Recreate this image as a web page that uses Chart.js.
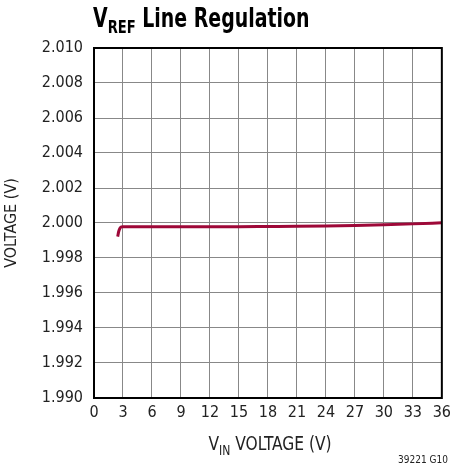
<!DOCTYPE html>
<html>
<head>
<meta charset="utf-8">
<script src="https://cdn.jsdelivr.net/npm/chart.js@4"></script>
<style>
  html, body { margin: 0; padding: 0; background: #fff; }
  #wrap { width: 456px; height: 470px; position: relative; }
</style>
</head>
<body>
<div id="wrap"><canvas id="myChart" width="456" height="470"></canvas></div>
<script>
// Input voltage (V) and reference output (V)
var vin = [2.45, 2.55, 2.7, 2.85, 3.0, 3.5, 6, 9, 12, 15, 18, 21, 24, 27, 30, 33, 36];
var vref = [1.99922, 1.99950, 1.99972, 1.99978, 1.99979, 1.99979, 1.99979, 1.99979, 1.99979, 1.99979, 1.99980, 1.99981, 1.99983, 1.99986, 1.99990, 1.99995, 2.00001];
// Axis ranges
var xTicks = [0, 3, 6, 9, 12, 15, 18, 21, 24, 27, 30, 33, 36];
var yMin = 1.990, yMax = 2.010, yStep = 0.002;

var FONT = '"Liberation Sans Narrow", "DejaVu Sans Condensed", "Liberation Sans", sans-serif';

var points = vin.map(function (v, i) { return { x: v, y: vref[i] }; });

// write text pieces [text, size, weight, dy] squeezed horizontally
function squeezed(c, parts, x, y, sx, align) {
    var total = 0;
    parts.forEach(function (p) {
        c.font = p[2] + ' ' + p[1] + 'px ' + FONT;
        p.w = c.measureText(p[0]).width;
        total += p.w;
    });
    var start = align === 'center' ? x - total * sx / 2 : x;
    c.save();
    c.translate(start, y);
    c.scale(sx, 1);
    var cx = 0;
    parts.forEach(function (p) {
        c.font = p[2] + ' ' + p[1] + 'px ' + FONT;
        c.fillText(p[0], cx, p[3]);
        cx += p.w;
    });
    c.restore();
}

// draws the title and x-axis title with subscripts, plus the figure code
var labelsPlugin = {
    id: 'labels',
    afterDraw: function (chart) {
        var c = chart.ctx;
        c.save();
        c.fillStyle = '#000';
        c.textBaseline = 'alphabetic';
        squeezed(c, [['V', 26, 'bold', 0], ['REF', 18, 'bold', 6], [' Line Regulation', 26, 'bold', 0]], 93, 27, 0.81, 'left');

        c.fillStyle = '#222';
        squeezed(c, [['V', 20, 'normal', 0], ['IN', 14, 'normal', 5], [' VOLTAGE (V)', 20, 'normal', 0]], 270, 450, 0.86, 'center');

        c.font = '10px ' + FONT;
        c.textAlign = 'right';
        c.fillText('39221 G10', 448, 463);
        c.restore();
    }
};

var ctx = document.getElementById('myChart');
var myChart = new Chart(ctx, {
    type: 'line',
    data: {
        datasets: [{
            data: points,
            borderColor: '#9e0838',
            borderWidth: 3,
            pointRadius: 0,
            tension: 0.3,
            cubicInterpolationMode: 'monotone',
            fill: false
        }]
    },
    options: {
        responsive: false,
        animation: false,
        layout: { padding: { left: 0, right: 11, top: 48, bottom: 0 } },
        plugins: { legend: { display: false }, tooltip: { enabled: false }, title: { display: false } },
        scales: {
            x: {
                type: 'linear',
                min: 0, max: 36,
                afterBuildTicks: function (scale) {
                    scale.ticks = xTicks.map(function (v) { return { value: v }; });
                },
                afterFit: function (scale) { scale.height = 72; },
                grid: { color: '#888', lineWidth: 1, drawTicks: false },
                border: { color: '#000', width: 2 },
                ticks: { color: '#222', padding: 5, maxRotation: 0, font: { family: FONT, size: 16 } }
            },
            y: {
                min: yMin, max: yMax,
                afterFit: function (scale) { scale.width = 94; },
                grid: { color: '#888', lineWidth: 1, drawTicks: false },
                border: { color: '#000', width: 2 },
                ticks: {
                    stepSize: yStep, color: '#222', padding: 11,
                    font: { family: FONT, size: 16 },
                    callback: function (v) { return v.toFixed(3); }
                },
                title: { display: true, text: 'VOLTAGE (V)', color: '#222', padding: { top: 2, bottom: 0 }, font: { family: FONT, size: 16 } }
            }
        }
    },
    plugins: [labelsPlugin, {
        id: 'frame',
        afterDatasetsDraw: function (chart) {
            var a = chart.chartArea, c = chart.ctx;
            c.save();
            c.strokeStyle = '#000';
            c.lineWidth = 2;
            c.strokeRect(a.left, a.top, a.right - a.left, a.bottom - a.top);
            c.restore();
        }
    }]
});
</script>
</body>
</html>
